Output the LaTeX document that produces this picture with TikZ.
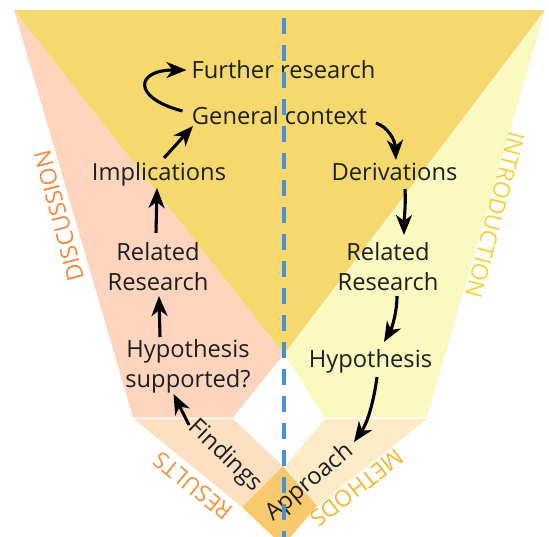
\documentclass[tikz,border=0pt]{standalone}
\usepackage{fontspec}
\setmainfont{Open Sans}
\usetikzlibrary{arrows.meta,calc}
\definecolor{cyel}{HTML}{F5D86E}
\definecolor{cpink}{HTML}{FDD5BE}
\definecolor{clight}{HTML}{FAF9C0}
\definecolor{cpeach}{HTML}{FDE0C2}
\definecolor{cbeige}{HTML}{FCEBC6}
\definecolor{corange}{HTML}{F9C96E}
\definecolor{cblue}{HTML}{4A90D9}
\definecolor{cdisc}{HTML}{F5883C}
\definecolor{cres}{HTML}{F5923A}
\definecolor{cintro}{HTML}{F8D233}
\definecolor{cmeth}{HTML}{F8B62E}
\definecolor{ctext}{HTML}{1E1E1E}
\tikzset{
  lbl/.style={inner sep=0pt, font=\fontsize{23.7}{30}\selectfont, text=ctext, align=center},
  sect/.style={inner sep=0pt, font=\fontsize{23}{27}\selectfont},
  arr/.style={line width=3.1pt, -{Stealth[length=20pt,width=16pt,inset=6pt]}},
}
\begin{document}
\begin{tikzpicture}[x=1pt,y=-1pt]
\useasboundingbox (0,0) rectangle (549,536);
\clip (0,0) rectangle (549,536);
% panels
\fill[cpink] (14,10) -- (133,417.5) -- (233,417.5) -- (284,354) -- cycle;
\fill[clight] (545,10) -- (427,417.5) -- (325,417.5) -- (284,354) -- cycle;
\fill[cyel] (14,10) -- (545,10) -- (284,354) -- cycle;
\fill[cpeach] (134,419) -- (233,419) -- (283,466) -- (242,507) -- cycle;
\fill[cbeige] (427,419) -- (325,419) -- (285,466) -- (317,506) -- cycle;
\fill[corange] (283,466) -- (317,506) -- (283,546) -- (242,507) -- cycle;
% section labels
\node[sect, text=cdisc, rotate=105] (disc) at (59,216) {DISCUSSION};
\node[sect, text=cintro, rotate=-105] (intro) at (495,215) {INTRODUCTION};
\node[sect, text=cres, rotate=141] (res) at (193,486) {RESULTS};
\node[sect, text=cmeth, rotate=218] (meth) at (357,488) {METHODS};
% text nodes
\node[lbl, anchor=base] (further) at (283.5,78) {Further research};
\node[lbl, anchor=base] (general) at (279.5,124) {General context};
\node[lbl, anchor=base] (impl) at (159,180) {Implications};
\node[lbl, anchor=base] (deriv) at (394.5,180) {Derivations};
\node[lbl, anchor=base] (relL) at (158,290) {Related\\Research};
\node[lbl, anchor=base] (relR) at (388,290) {Related\\Research};
\node[lbl, anchor=base] (hypL) at (188,387) {Hypothesis\\supported?};
\node[lbl, anchor=base] (hypR) at (370.5,367) {Hypothesis};
\node[lbl, rotate=-44] (find) at (225,456) {Findings};
\node[lbl, rotate=40] (appr) at (310,483) {Approach};
% arrows
\draw[arr] ($(general.base)+(-97,-13)$) .. controls (132,98) and (135,70) .. ($(further.base)+(-97,-8)$);
\draw[arr] ($(impl.base)+(5,-22)$) -- ($(general.base)+(-86.5,2)$);
\draw[arr] ($(relL.base)+(-2,-57)$) -- ($(impl.base)+(-2,8)$);
\draw[arr] ($(hypL.base)+(-28,-50)$) -- ($(relL.base)+(1,6)$);
\draw[arr] ($(find.center)+(-36,-31)$) -- ($(hypL.base)+(-14.5,7)$);
\draw[arr] ($(general.base)+(96.5,-1)$) .. controls (388,127) and (395,140) .. ($(deriv.base)+(1.5,-20)$);
\draw[arr] ($(deriv.base)+(10.5,9)$) .. controls (406,205) and (404,220) .. ($(relR.base)+(16,-55)$);
\draw[arr] ($(relR.base)+(9,6)$) .. controls (397,312) and (392,328) .. ($(hypR.base)+(13.5,-25)$);
\draw[arr] ($(hypR.base)+(6.5,10)$) .. controls (374,400) and (368,422) .. ($(appr.center)+(44,-41)$);
% divider
\coordinate (dtop) at (284,18);
\coordinate (dbot) at (284,540);
\draw[cblue, line width=3.2pt, dash pattern=on 16pt off 11pt] (dtop) -- (dbot);
\end{tikzpicture}
\end{document}
